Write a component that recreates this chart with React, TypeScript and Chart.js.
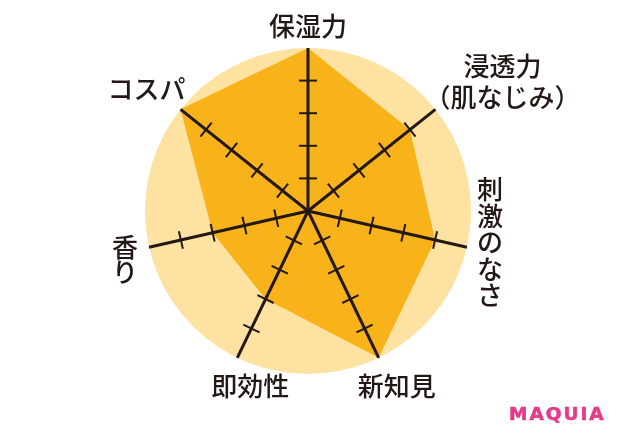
import { useEffect, useRef } from 'react'
import { Chart, registerables } from 'chart.js'

Chart.register(...registerables)

// 評価項目（縦書きのものは1文字ずつ）
const categories: string[][] = [
  ['保湿力'],
  ['浸透力', '（肌なじみ）'],
  ['刺', '激', 'の', 'な', 'さ'],
  ['新知見'],
  ['即効性'],
  ['香', 'り'],
  ['コスパ'],
]
const scores = [5, 4, 4, 5, 3, 3, 5]
const scaleMax = 5
const tickValues = [1, 2, 3, 4]

const INK = '#231815'
const ORANGE = '#f8b21a'
const CREAM = '#fde2a1'
const LABEL_FONT = '500 26px "Noto Sans CJK JP", "Noto Sans", sans-serif'

// label block centre, relative to the end of its axis
const labelOffsets: [number, number][] = [
  [0, -22],
  [67, -28],
  [23, -5],
  [18, 28],
  [13, 28],
  [-24, 12],
  [-34, -20],
]
const labelLineHeights = [26, 31, 26.5, 26, 26, 25, 26]

const axisMarks = {
  id: 'axisMarks',
  afterDatasetsDraw(chart: Chart) {
    const scale: any = chart.scales.r
    const ctx = chart.ctx
    const cx = scale.xCenter
    const cy = scale.yCenter
    ctx.save()
    ctx.strokeStyle = INK
    ctx.fillStyle = INK
    categories.forEach((lines, i) => {
      const end = scale.getPointPositionForValue(i, scaleMax)
      ctx.lineWidth = 3
      ctx.beginPath()
      ctx.moveTo(cx, cy)
      ctx.lineTo(end.x, end.y)
      ctx.stroke()

      const dx = end.x - cx
      const dy = end.y - cy
      const len = Math.hypot(dx, dy)
      const nx = -dy / len
      const ny = dx / len
      ctx.lineWidth = 2
      tickValues.forEach((v) => {
        const p = scale.getPointPositionForValue(i, v)
        ctx.beginPath()
        ctx.moveTo(p.x - nx * 9, p.y - ny * 9)
        ctx.lineTo(p.x + nx * 9, p.y + ny * 9)
        ctx.stroke()
      })

      const [ox, oy] = labelOffsets[i]
      const lh = labelLineHeights[i]
      ctx.font = LABEL_FONT
      ctx.textAlign = 'center'
      ctx.textBaseline = 'middle'
      lines.forEach((t, j) => {
        ctx.fillText(t, end.x + ox, end.y + oy + (j - (lines.length - 1) / 2) * lh)
      })
    })
    ctx.restore()
  },
}

const App = (): JSX.Element => {
  const canvasRef = useRef<HTMLCanvasElement | null>(null)

  useEffect(() => {
    if (!canvasRef.current) return

    const chart = new Chart(canvasRef.current, {
      type: 'radar',
      data: {
        labels: categories,
        datasets: [
          {
            data: scores,
            fill: true,
            backgroundColor: ORANGE,
            borderWidth: 0,
            pointRadius: 0,
          },
        ],
      },
      options: {
        responsive: false,
        animation: false,
        layout: { padding: { top: 48, bottom: 72, left: 0, right: 4 } },
        plugins: {
          legend: { display: false },
          tooltip: { enabled: false },
        },
        scales: {
          r: {
            min: 0,
            max: scaleMax,
            startAngle: 0,
            backgroundColor: CREAM,
            grid: { display: false, circular: true },
            angleLines: { display: false },
            ticks: { display: false },
            pointLabels: { display: false },
          },
        },
      },
      plugins: [axisMarks],
    })

    return () => {
      chart.destroy()
    }
  }, [])

  return (
    <div style={{ position: 'absolute', left: 0, top: 0, width: 620, height: 446, background: '#fff' }}>
      <canvas ref={canvasRef} width={620} height={446} />
      <div
        style={{
          position: 'absolute',
          left: 509,
          top: 402,
          fontFamily: '"DejaVu Sans", sans-serif',
          fontWeight: 700,
          fontSize: 18.5,
          letterSpacing: 2,
          color: '#e6398a',
          lineHeight: '24px',
          WebkitTextStroke: '0.6px #e6398a',
        }}
      >
        MAQUIA
      </div>
    </div>
  )
}

export default App
